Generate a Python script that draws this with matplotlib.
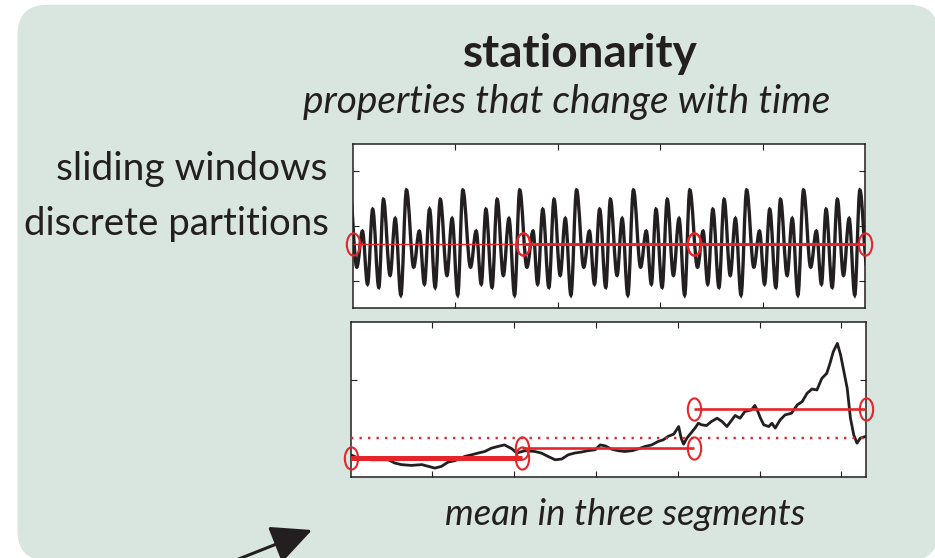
import numpy as np
import matplotlib
matplotlib.use("Agg")
import matplotlib.pyplot as plt
from matplotlib.path import Path
from matplotlib.patches import PathPatch, FancyBboxPatch
from matplotlib.markers import MarkerStyle
from matplotlib.transforms import Affine2D

# ---------------- data ----------------
# top panel: stationary oscillation, extrema (x as fraction of window)
top_x = [-0.006, 0.008, 0.019, 0.029, 0.039, 0.051, 0.060, 0.073, 0.083, 0.094,
         0.105, 0.119, 0.130, 0.140, 0.150, 0.161, 0.171, 0.184, 0.194, 0.205,
         0.215, 0.230, 0.241, 0.251, 0.260, 0.272, 0.282, 0.294, 0.305, 0.316,
         0.326, 0.340, 0.352, 0.361, 0.371, 0.383, 0.393, 0.405, 0.415, 0.426,
         0.437, 0.451, 0.462, 0.472, 0.482, 0.494, 0.503, 0.516, 0.526, 0.537,
         0.548, 0.562, 0.573, 0.583, 0.592, 0.604, 0.614, 0.626, 0.637, 0.648,
         0.658, 0.673, 0.684, 0.693, 0.703, 0.715, 0.725, 0.737, 0.747, 0.758,
         0.769, 0.783, 0.794, 0.804, 0.814, 0.826, 0.835, 0.848, 0.858, 0.869,
         0.880, 0.894, 0.905, 0.915, 0.924, 0.936, 0.946, 0.958, 0.969, 0.980,
         0.990, 1.004]
top_y = [0.66, -0.75, -0.09, -1.06, 0.31, -1.12, 0.49, -0.90, 0.14, -1.26,
         0.66, -0.75, -0.09, -1.06, 0.31, -1.12, 0.49, -0.90, 0.14, -1.26,
         0.66, -0.75, -0.09, -1.06, 0.31, -1.12, 0.49, -0.90, 0.14, -1.26,
         0.66, -0.75, -0.09, -1.06, 0.31, -1.12, 0.49, -0.90, 0.14, -1.26,
         0.66, -0.75, -0.09, -1.06, 0.31, -1.12, 0.49, -0.90, 0.14, -1.26,
         0.66, -0.75, -0.09, -1.06, 0.31, -1.12, 0.49, -0.90, 0.14, -1.26,
         0.66, -0.75, -0.09, -1.06, 0.31, -1.12, 0.49, -0.90, 0.14, -1.26,
         0.66, -0.75, -0.09, -1.06, 0.31, -1.12, 0.49, -0.90, 0.14, -1.26,
         0.66, -0.75, -0.09, -1.06, 0.31, -1.12, 0.49, -0.90, 0.14, -1.26,
         0.66, -0.75]
top_bounds = [0.0, 0.333, 0.667, 1.0]
top_means = [-0.33, -0.33, -0.33]
top_seg_lw = [1.0, 2.2, 2.2]

# bottom panel: non-stationary series
bot_x = [0, 0.09, 0.25, 0.46, 0.54, 0.62, 0.74, 0.87, 0.95, 1.03,
         1.11, 1.19, 1.27, 1.40, 1.48, 1.56, 1.64, 1.72, 1.80, 1.88,
         1.97, 2.03, 2.13, 2.25, 2.33, 2.41, 2.50, 2.58, 2.66, 2.74,
         2.82, 2.90, 2.99, 3.05, 3.11, 3.19, 3.27, 3.35, 3.44, 3.52,
         3.60, 3.68, 3.76, 3.82, 3.88, 3.95, 4.01, 4.04, 4.07, 4.11,
         4.15, 4.21, 4.25, 4.29, 4.35, 4.41, 4.48, 4.54, 4.60, 4.66,
         4.70, 4.76, 4.82, 4.90, 4.94, 4.97, 5.01, 5.05, 5.11, 5.15,
         5.19, 5.25, 5.31, 5.39, 5.46, 5.52, 5.58, 5.64, 5.70, 5.76,
         5.82, 5.86, 5.90, 5.95, 5.99, 6.03, 6.07, 6.11, 6.15, 6.19,
         6.23, 6.30]
bot_y = [1.15, 0.98, 0.89, 0.89, 0.72, 0.64, 0.60, 0.64, 0.55, 0.46,
         0.55, 0.77, 0.84, 1.07, 1.15, 1.24, 1.32, 1.49, 1.58, 1.66,
         1.46, 1.24, 1.36, 1.32, 1.24, 1.07, 0.89, 0.93, 1.15, 1.24,
         1.29, 1.36, 1.41, 1.66, 1.61, 1.44, 1.36, 1.32, 1.36, 1.46,
         1.58, 1.66, 1.84, 1.92, 2.10, 2.22, 2.61, 2.01, 1.70, 2.01,
         2.22, 2.53, 2.78, 2.70, 2.66, 2.87, 3.04, 2.87, 2.61, 2.95,
         3.18, 3.04, 3.39, 3.47, 3.70, 3.47, 3.04, 2.70, 2.61, 2.78,
         2.53, 2.95, 3.21, 3.30, 3.73, 3.90, 4.33, 4.55, 4.50, 5.10,
         5.36, 5.88, 6.48, 6.91, 6.30, 5.45, 4.59, 3.04, 2.18, 1.75,
         2.01, 2.10]
bot_bounds = [0.0, 2.1, 4.2, 6.3]
bot_means = [0.98, 1.49, 3.52]
bot_seg_lw = [3.6, 1.9, 1.9]
bot_overall_mean = 2.01

title = "stationarity"
subtitle = "properties that change with time"
left_labels = ["sliding windows", "discrete partitions"]
caption = "mean in three segments"

# ---------------- style ----------------
INK = "#231f20"
RED = "#e5252a"
BG = "#d9e5df"
FONT = "Lato"

W, H = 935, 558
fig = plt.figure(figsize=(W / 100, H / 100), dpi=100)
fig.patch.set_facecolor("white")

bg = fig.add_axes([0, 0, 1, 1])
bg.set_xlim(0, W)
bg.set_ylim(H, 0)
bg.axis("off")
bg.add_patch(FancyBboxPatch((17.5, 4.7), 921, 556, boxstyle="round,pad=0,rounding_size=30",
                            fc=BG, ec="none"))

bg.text(580, 67, title, ha="center", va="baseline", fontsize=33, fontweight="bold",
        family=FONT, color=INK)
bg.text(567, 113, subtitle, ha="center", va="baseline", fontsize=28, style="italic",
        family=FONT, color=INK)
bg.text(327, 180, left_labels[0], ha="right", va="baseline", fontsize=28,
        family=FONT, color=INK)
bg.text(329, 235, left_labels[1], ha="right", va="baseline", fontsize=27.6,
        family=FONT, color=INK)
bg.text(625, 525, caption, ha="center", va="baseline", fontsize=26.3, style="italic",
        family=FONT, color=INK)

bg.annotate("", xy=(312, 530), xytext=(226, 564),
            arrowprops=dict(arrowstyle="-|>,head_length=2.5,head_width=1.2",
                            lw=2.2, color=INK, shrinkA=0, shrinkB=0))

ell = MarkerStyle("o", fillstyle="none", transform=Affine2D().scale(0.6, 1.0))


def style_axes(ax):
    ax.set_facecolor("white")
    for s in ax.spines.values():
        s.set_color(INK)
        s.set_linewidth(1.1)
    ax.tick_params(direction="in", top=True, right=True, length=4.5, width=0.8,
                   color=INK, labelbottom=False, labelleft=False)


# ---- top panel ----
ax1 = fig.add_axes([352.7 / W, (H - 308.3) / H, 512.3 / W, 164.3 / H])
style_axes(ax1)
ax1.set_xlim(0, 1)
ax1.set_ylim(-1.5, 1.5)
ax1.set_xticks([0.2, 0.4, 0.6, 0.8])
ax1.set_yticks([-1, 0, 1])

verts = [(top_x[0], top_y[0])]
codes = [Path.MOVETO]
for i in range(1, len(top_x)):
    x0, y0 = top_x[i - 1], top_y[i - 1]
    x1, y1 = top_x[i], top_y[i]
    d = 0.36 * (x1 - x0)
    verts += [(x0 + d, y0), (x1 - d, y1), (x1, y1)]
    codes += [Path.CURVE4] * 3
ax1.add_patch(PathPatch(Path(verts, codes), fill=False, ec=INK, lw=2.4, zorder=2))

for i in range(3):
    xs = [top_bounds[i], top_bounds[i + 1]]
    ys = [top_means[i], top_means[i]]
    ax1.plot(xs, ys, color=RED, lw=top_seg_lw[i], zorder=3, solid_capstyle="butt")
    ax1.plot(xs, ys, ls="none", marker=ell, ms=16, mec=RED, mew=1.5, clip_on=False, zorder=4)

# ---- bottom panel ----
ax2 = fig.add_axes([350.7 / W, (H - 477) / H, 515.3 / W, 154.7 / H])
style_axes(ax2)
ax2.set_xlim(0, 6.3)
ax2.set_ylim(0, 8)
ax2.set_xticks([1, 2, 3, 4, 5, 6])
ax2.set_yticks([5])

ax2.plot(bot_x, bot_y, color=INK, lw=2.0, zorder=2)
ax2.plot([bot_bounds[0], bot_bounds[-1]], [bot_overall_mean] * 2, color=RED, lw=1.7,
         ls=(0, (1, 2.6)), zorder=3)
for i in range(3):
    xs = [bot_bounds[i], bot_bounds[i + 1]]
    ys = [bot_means[i], bot_means[i]]
    ax2.plot(xs, ys, color=RED, lw=bot_seg_lw[i], zorder=3, solid_capstyle="butt")
    ax2.plot(xs, ys, ls="none", marker=ell, ms=16, mec=RED, mew=1.5, clip_on=False, zorder=4)

fig.savefig("out.png", dpi=100, facecolor="white")
